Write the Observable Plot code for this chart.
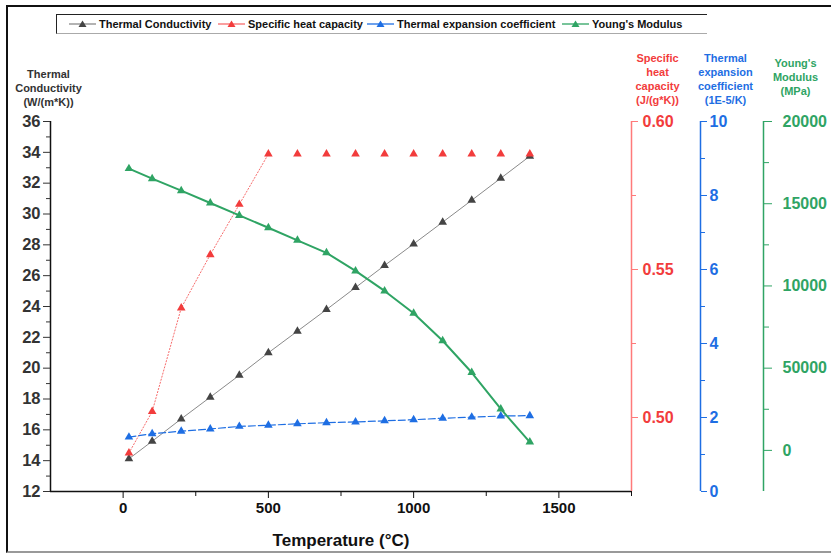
<!DOCTYPE html>
<html><head><meta charset="utf-8">
<script src="https://cdn.jsdelivr.net/npm/d3@7"></script>
<script src="https://cdn.jsdelivr.net/npm/@observablehq/plot@0.6"></script>
<style>
body{margin:0;background:#fff;font-family:"Liberation Sans",Arial,sans-serif;}
#wrap{position:relative;width:831px;height:553px;overflow:hidden;}
#border{position:absolute;left:6px;top:5px;width:840px;height:544px;border-left:2px solid #111;border-top:2px solid #111;border-bottom:2px solid #999;}
#legend{position:absolute;left:56px;top:14px;height:18px;width:650px;border-left:1px solid #222;border-top:1px solid #222;border-bottom:1px solid #aaa;font-weight:bold;font-size:11px;color:#111;}
.item{position:absolute;top:0;height:18px;display:flex;align-items:center;white-space:nowrap;}
.item svg{margin-right:3px;}
#chart{position:absolute;left:0;top:0;}
</style></head>
<body>
<div id="wrap">
<div id="border"></div>
<div id="chart"></div>
<div id="legend"></div>
</div>
<script>
// ---- data ----
const temps = [20, 100, 200, 300, 400, 500, 600, 700, 800, 900, 1000, 1100, 1200, 1300, 1400];
const thermalConductivity = [14.12, 15.26, 16.71, 18.12, 19.54, 21.0, 22.4, 23.8, 25.23, 26.66, 28.06, 29.47, 30.89, 32.32, 33.75];
const specificHeat = [0.488, 0.502, 0.537, 0.555, 0.572, 0.589, 0.589, 0.589, 0.589, 0.589, 0.589, 0.589, 0.589, 0.589, 0.589];
const thermalExpansion = [1.47, 1.56, 1.63, 1.69, 1.76, 1.79, 1.83, 1.86, 1.88, 1.91, 1.94, 1.98, 2.01, 2.04, 2.05];
const youngsModulus = [17135, 16525, 15794, 15043, 14290, 13538, 12775, 12013, 10915, 9696, 8335, 6665, 4736, 2520, 507];

const seriesNames = ["Thermal Conductivity", "Specific heat capacity", "Thermal expansion coefficient", "Young's Modulus"];

// ---- axes / ticks ----
const xTicks = [0, 500, 1000, 1500];
const xMinor = [250, 750, 1250, 1750];
const leftTicks = [12, 14, 16, 18, 20, 22, 24, 26, 28, 30, 32, 34, 36];
const leftMinor = [13, 15, 17, 19, 21, 23, 25, 27, 29, 31, 33, 35];
const redTicks = [0.50, 0.55, 0.60];
const redMinor = [0.525, 0.575];
const blueTicks = [0, 2, 4, 6, 8, 10];
const blueMinor = [1, 3, 5, 7, 9];
const greenTicks = [0, 5000, 10000, 15000, 20000];
const greenTickLabels = ["0", "50000", "10000", "15000", "20000"];
const greenMinor = [2500, 7500, 12500, 17500];

const xDomain = [-250, 1750];
const leftDomain = [12, 36];
const redDomain = [0.475, 0.60];
const blueDomain = [0, 10];
const greenDomain = [-2500, 20000];

const titles = {
  left: "Thermal\nConductivity\n(W/(m*K))",
  red: "Specific\nheat\ncapacity\n(J/(g*K))",
  blue: "Thermal\nexpansion\ncoefficient\n(1E-5/K)",
  green: "Young's\nModulus\n(MPa)",
  x: "Temperature (°C)"
};

// ---- styling ----
const C = {
  black: "#444", blackLine: "#8a8a8a",
  red: "#f23c3c", redAxis: "#ff7a7a", redLine: "#f76b6b",
  blue: "#1e6ee3", green: "#2fa464", text: "#333"
};

// map secondary axes onto the left-axis units
const mapTo = dom => v => leftDomain[0] + (v - dom[0]) / (dom[1] - dom[0]) * (leftDomain[1] - leftDomain[0]);
const fRed = mapTo(redDomain), fBlue = mapTo(blueDomain), fGreen = mapTo(greenDomain);

const rows = temps.map((t, i) => ({
  t,
  tc: thermalConductivity[i],
  sh: fRed(specificHeat[i]),
  te: fBlue(thermalExpansion[i]),
  ym: fGreen(youngsModulus[i])
}));

const blankFmt = () => "";
const bold = {fontWeight: "bold"};
const titleStyle = {fontSize: 11, lineHeight: 1.27, fontWeight: "bold", textAnchor: "middle", lineAnchor: "middle"};

const chart = Plot.plot({
  width: 831, height: 553,
  marginLeft: 50, marginRight: 200, marginTop: 121, marginBottom: 62,
  x: {domain: xDomain, axis: null},
  y: {domain: leftDomain, axis: null},
  style: {fontFamily: "'Liberation Sans', Arial, sans-serif", background: "transparent", overflow: "visible"},
  marks: [
    // axis lines
    Plot.ruleX([xDomain[0]], {stroke: "#111", strokeWidth: 1.5}),
    Plot.ruleY([leftDomain[0]], {stroke: "#111", strokeWidth: 1.5}),
    Plot.ruleX([xDomain[1]], {stroke: C.redAxis, strokeWidth: 1.5}),
    Plot.ruleX([xDomain[1]], {stroke: C.blue, strokeWidth: 1.5, dx: 69}),
    Plot.ruleX([xDomain[1]], {stroke: C.green, strokeWidth: 1.5, dx: 132}),

    // left axis
    Plot.axisY(leftMinor, {anchor: "left", tickSize: 4, tickFormat: blankFmt, stroke: "#333", label: null}),
    Plot.axisY(leftTicks, {anchor: "left", tickSize: 7, tickPadding: 3, tickFormat: d => String(d), fontSize: 16.5, ...bold, stroke: "#333", fill: C.text, label: null}),

    // x axis
    Plot.axisX(xMinor, {anchor: "bottom", tickSize: 5, tickFormat: blankFmt, stroke: "#111", label: null}),
    Plot.axisX(xTicks, {anchor: "bottom", tickSize: 7, tickPadding: 4, tickFormat: d => String(d), fontSize: 15, ...bold, stroke: "#111", fill: "#111", label: null}),
    Plot.text([titles.x], {frameAnchor: "bottom", dy: 54, fontSize: 17, ...bold, fill: "#111"}),

    // red axis
    Plot.axisY(redMinor, {y: d => fRed(d), anchor: "right", tickSize: 4, tickFormat: blankFmt, stroke: C.redAxis, label: null}),
    Plot.axisY(redTicks, {y: d => fRed(d), anchor: "right", tickSize: 6, tickPadding: 5, tickFormat: d => d.toFixed(2), fontSize: 16, ...bold, stroke: C.redAxis, fill: C.red, label: null}),

    // blue axis
    Plot.axisY(blueMinor, {y: d => fBlue(d), anchor: "right", dx: 69, tickSize: 4, tickFormat: blankFmt, stroke: C.blue, label: null}),
    Plot.axisY(blueTicks, {y: d => fBlue(d), anchor: "right", dx: 69, tickSize: 6, tickPadding: 3, tickFormat: d => String(d), fontSize: 16, ...bold, stroke: C.blue, fill: C.blue, label: null}),

    // green axis
    Plot.axisY(greenMinor, {y: d => fGreen(d), anchor: "right", dx: 132, tickSize: 5, tickFormat: blankFmt, stroke: C.green, label: null}),
    Plot.axisY(greenTicks, {y: d => fGreen(d), anchor: "right", dx: 132, tickSize: 8, tickPadding: 11, tickFormat: d => greenTickLabels[greenTicks.indexOf(d)], fontSize: 16, ...bold, stroke: C.green, fill: C.green, label: null}),

    // axis titles
    Plot.text([titles.left], {frameAnchor: "top-left", dx: -2, dy: -34, ...titleStyle, fill: C.text}),
    Plot.text([titles.red], {frameAnchor: "top-right", dx: 26, dy: -43, ...titleStyle, fill: C.red}),
    Plot.text([titles.blue], {frameAnchor: "top-right", dx: 94, dy: -43, ...titleStyle, fill: C.blue}),
    Plot.text([titles.green], {frameAnchor: "top-right", dx: 164, dy: -45, ...titleStyle, fill: C.green}),

    // series lines
    Plot.line(rows, {x: "t", y: "tc", stroke: C.blackLine, strokeWidth: 1}),
    Plot.line(rows.filter(d => d.t <= 500), {x: "t", y: "sh", stroke: C.redLine, strokeWidth: 1, strokeDasharray: "1.2,2"}),
    Plot.line(rows, {x: "t", y: "te", stroke: C.blue, strokeWidth: 1.2, strokeDasharray: "7,3"}),
    Plot.line(rows, {x: "t", y: "ym", stroke: C.green, strokeWidth: 2}),

    // markers
    Plot.dot(rows, {x: "t", y: "tc", symbol: "triangle", r: 3.2, fill: C.black}),
    Plot.dot(rows, {x: "t", y: "sh", symbol: "triangle", r: 3.2, fill: C.red}),
    Plot.dot(rows, {x: "t", y: "te", symbol: "triangle", r: 3.2, fill: C.blue}),
    Plot.dot(rows, {x: "t", y: "ym", symbol: "triangle", r: 3.2, fill: C.green})
  ]
});
document.getElementById("chart").appendChild(chart);

// ---- legend ----
const legendItems = [
  {name: seriesNames[0], line: C.blackLine, mark: C.black, left: 12},
  {name: seriesNames[1], line: C.redLine, mark: C.red, left: 161},
  {name: seriesNames[2], line: C.blue, mark: C.blue, left: 310},
  {name: seriesNames[3], line: C.green, mark: C.green, left: 505}
];
const legend = document.getElementById("legend");
for (const it of legendItems) {
  const div = document.createElement("div");
  div.className = "item";
  div.style.left = it.left + "px";
  div.innerHTML = `<svg width="27" height="12"><line x1="0" x2="27" y1="6" y2="6" stroke="${it.line}" stroke-width="1.3"/>` +
    `<path d="M13.5,2.5 L17.5,9 L9.5,9 Z" fill="${it.mark}"/></svg><span></span>`;
  div.querySelector("span").textContent = it.name;
  legend.appendChild(div);
}
</script>
</body></html>
